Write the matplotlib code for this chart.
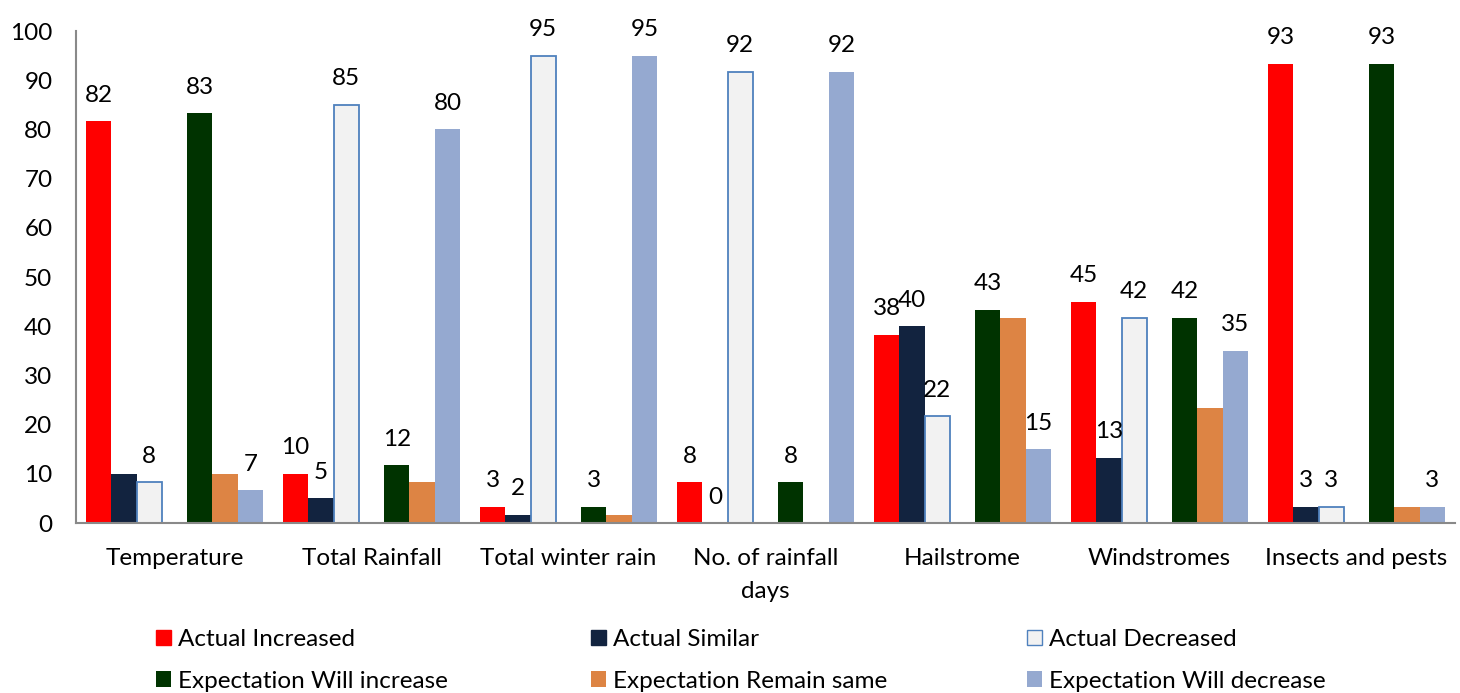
import matplotlib
matplotlib.use("Agg")
import matplotlib.pyplot as plt
import numpy as np
from matplotlib.patches import Patch

plt.rcParams['font.family'] = ['Lato', 'DejaVu Sans']

categories = ["Temperature", "Total Rainfall", "Total winter rain",
              "No. of rainfall\ndays", "Hailstrome", "Windstromes", "Insects and pests"]

actual_increased = [81.7, 10.0, 3.3, 8.3, 38.3, 45.0, 93.3]
actual_similar = [10.0, 5.0, 1.7, 0.0, 40.0, 13.3, 3.3]
actual_decreased = [8.3, 85.0, 95.0, 91.7, 21.7, 41.7, 3.3]
expect_increase = [83.3, 11.7, 3.3, 8.3, 43.3, 41.7, 93.3]
expect_same = [10.0, 8.3, 1.7, 0.0, 41.7, 23.3, 3.3]
expect_decrease = [6.7, 80.0, 95.0, 91.7, 15.0, 35.0, 3.3]

# which bars carry a data label
label_actual_increased = [True] * 7
label_actual_similar = [False, True, True, True, True, True, True]
label_actual_decreased = [True] * 7
label_expect_increase = [True] * 7
label_expect_same = [False] * 7
label_expect_decrease = [True] * 7

series_names = ["Actual Increased", "Actual Similar", "Actual Decreased",
                "Expectation Will increase", "Expectation Remain same",
                "Expectation Will decrease"]
series_values = [actual_increased, actual_similar, actual_decreased,
                 expect_increase, expect_same, expect_decrease]
series_labels = [label_actual_increased, label_actual_similar, label_actual_decreased,
                 label_expect_increase, label_expect_same, label_expect_decrease]
face_colors = ["#FF0000", "#12233F", "#F2F2F2", "#003300", "#DD8444", "#95A9D0"]
edge_colors = ["none", "none", "#4F81BD", "none", "none", "none"]
slots = [0, 1, 2, 4, 5, 6]

FS = 17.5
W, H = 1460, 693
fig = plt.figure(figsize=(W / 100, H / 100), dpi=100)
ax = fig.add_axes([76 / W, 1 - 523 / H, (1455 - 76) / W, (523 - 31) / H])

x = np.arange(len(categories))
bw = 0.9 / 7
for name, vals, labs, fc, ec, slot in zip(series_names, series_values, series_labels,
                                          face_colors, edge_colors, slots):
    pos = x + (slot - 3) * bw
    ax.bar(pos, vals, width=bw, color=fc, edgecolor=ec,
           linewidth=1.3 if ec != "none" else 0, label=name, zorder=2)
    for p, v, show in zip(pos, vals, labs):
        if show:
            ax.annotate(f"{v:.0f}", (p, v), xytext=(0, 18.7), textcoords="offset points",
                        ha="center", va="center", fontsize=FS, color="black")

ax.set_xlim(-0.5, len(categories) - 0.5)
ax.set_ylim(0, 100)
ax.set_yticks(np.arange(0, 101, 10))
ax.set_xticks(x)
ax.set_xticklabels(categories, fontsize=FS, linespacing=1.7)
ax.tick_params(axis="y", length=0, pad=17, labelsize=FS)
ax.tick_params(axis="x", length=0, pad=18)
for s in ["top", "right"]:
    ax.spines[s].set_visible(False)
for s in ["left", "bottom"]:
    ax.spines[s].set_color("#898989")
    ax.spines[s].set_linewidth(1.5)

# legend: three columns at fixed positions
col_x = [156, 591, 1027]
for c in range(3):
    hs = [Patch(facecolor=face_colors[c], edgecolor=edge_colors[c] if edge_colors[c] != "none" else face_colors[c], linewidth=1.0),
          Patch(facecolor=face_colors[c + 3], edgecolor=face_colors[c + 3], linewidth=0)]
    ls = [series_names[c], series_names[c + 3]]
    fig.legend(hs, ls, loc="upper left", bbox_to_anchor=(col_x[c] / W, 1 - 629 / H),
               frameon=False, fontsize=FS, handlelength=0.62, handleheight=0.62,
               handletextpad=0.28, borderpad=0, borderaxespad=0, labelspacing=0.85)

fig.savefig("out.png", dpi=100)
